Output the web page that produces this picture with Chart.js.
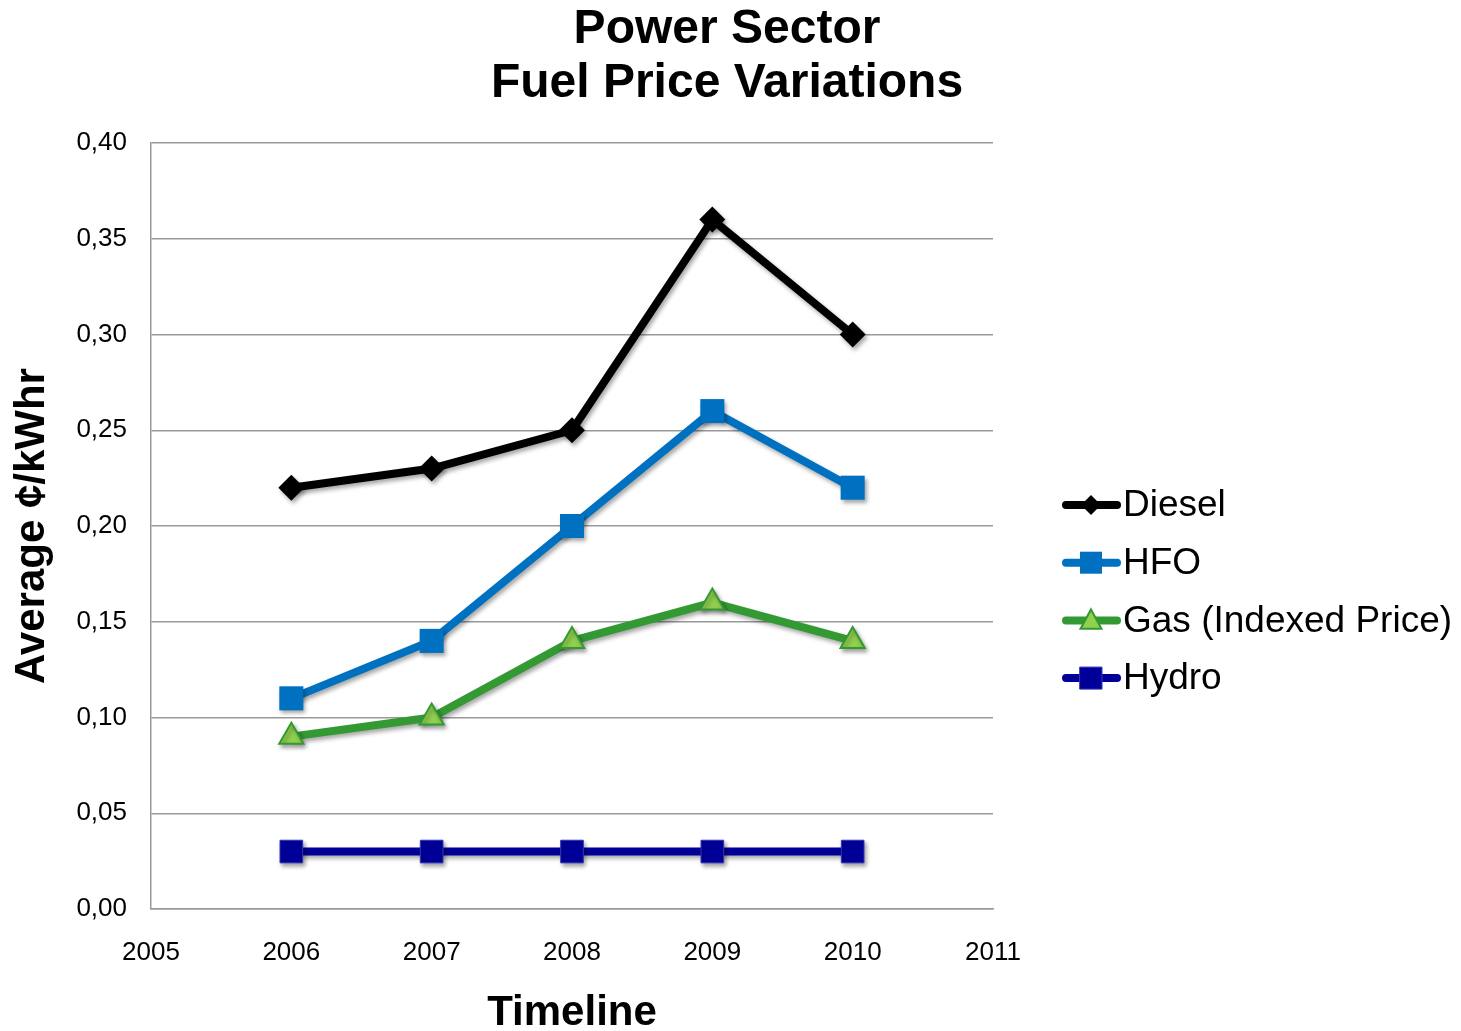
<!DOCTYPE html>
<html>
<head>
<meta charset="utf-8">
<script src="https://cdn.jsdelivr.net/npm/chart.js@4.4.1/dist/chart.umd.min.js"></script>
<style>
    html, body { margin: 0; padding: 0; background: #fff; }
    #wrap { width: 1461px; height: 1031px; }
</style>
</head>
<body>
<div id="wrap"><canvas id="chart"></canvas></div>
<script>
const years = [2006, 2007, 2008, 2009, 2010]
const diesel = [0.22, 0.23, 0.25, 0.36, 0.30]
const hfo = [0.11, 0.14, 0.20, 0.26, 0.22]
const gas = [0.09, 0.10, 0.14, 0.16, 0.14]
const hydro = [0.03, 0.03, 0.03, 0.03, 0.03]
const seriesNames = ['Diesel', 'HFO', 'Gas (Indexed Price)', 'Hydro']

const FONT = "'Liberation Sans', Arial, sans-serif"

function toPoints(values) {
    return values.map((v, i) => ({x: years[i], y: v}))
}

// drop shadow like the office chart
const shadowPlugin = {
    id: 'shadow',
    beforeDatasetDraw(chart) {
        const ctx = chart.ctx
        ctx.save()
        ctx.shadowColor = 'rgba(0,0,0,0.35)'
        ctx.shadowBlur = 4
        ctx.shadowOffsetX = 2
        ctx.shadowOffsetY = 3
    },
    afterDatasetDraw(chart) {
        chart.ctx.restore()
    }
}

function drawMarker(ctx, style, x, y, r, fill, stroke, lw) {
    ctx.beginPath()
    if (style === 'rectRot') {
        ctx.moveTo(x - r, y)
        ctx.lineTo(x, y - r)
        ctx.lineTo(x + r, y)
        ctx.lineTo(x, y + r)
    } else if (style === 'rect') {
        ctx.rect(x - r, y - r, 2 * r, 2 * r)
    } else if (style === 'triangle') {
        ctx.moveTo(x, y - r)
        ctx.lineTo(x + r * 0.95, y + r * 0.75)
        ctx.lineTo(x - r * 0.95, y + r * 0.75)
    }
    ctx.closePath()
    ctx.fillStyle = fill
    ctx.fill()
    if (lw) {
        ctx.lineWidth = lw
        ctx.strokeStyle = stroke
        ctx.stroke()
    }
}

const legendPlugin = {
    id: 'sideLegend',
    afterDraw(chart) {
        const ctx = chart.ctx
        const startY = 505
        const gap = 57.7
        ctx.save()
        chart.data.datasets.forEach((ds, i) => {
            const y = startY + i * gap
            ctx.beginPath()
            ctx.lineCap = 'round'
            ctx.lineWidth = 8
            ctx.strokeStyle = ds.borderColor
            ctx.moveTo(1066, y)
            ctx.lineTo(1117, y)
            ctx.stroke()
            const r = ds.pointStyle === 'rectRot' ? 10 : 11
            drawMarker(ctx, ds.pointStyle, 1091, y, r, ds.pointBackgroundColor, ds.pointBorderColor, ds.pointBorderWidth)
            ctx.fillStyle = '#000'
            ctx.font = '37px ' + FONT
            ctx.textBaseline = 'middle'
            ctx.textAlign = 'left'
            ctx.fillText(ds.label, 1123, y + 1)
        })
        ctx.restore()
    }
}

const chart = new Chart(document.getElementById('chart'), {
    type: 'line',
    data: {
        datasets: [
            {
                label: seriesNames[0],
                data: toPoints(diesel),
                borderColor: '#000000',
                borderWidth: 8,
                pointStyle: 'rectRot',
                pointRadius: 13,
                pointBackgroundColor: '#000000',
                pointBorderColor: '#000000',
                pointBorderWidth: 0,
            },
            {
                label: seriesNames[1],
                data: toPoints(hfo),
                borderColor: '#0070C0',
                borderWidth: 8,
                pointStyle: 'rect',
                pointRadius: 17,
                pointBackgroundColor: '#0070C0',
                pointBorderColor: '#0070C0',
                pointBorderWidth: 0,
            },
            {
                label: seriesNames[2],
                data: toPoints(gas),
                borderColor: '#339933',
                borderWidth: 8,
                pointStyle: 'triangle',
                pointRadius: 14,
                pointBackgroundColor: '#92D050',
                pointBorderColor: '#339933',
                pointBorderWidth: 2,
            },
            {
                label: seriesNames[3],
                data: toPoints(hydro),
                borderColor: '#000099',
                borderWidth: 8,
                pointStyle: 'rect',
                pointRadius: 16,
                pointBackgroundColor: '#000099',
                pointBorderColor: '#3333bb',
                pointBorderWidth: 1,
            },
        ]
    },
    options: {
        responsive: true,
        maintainAspectRatio: false,
        animation: false,
        layout: {
            padding: {left: 0, right: 7, top: 0, bottom: 0}
        },
        elements: {
            line: {tension: 0, borderJoinStyle: 'round'},
        },
        plugins: {
            legend: {display: false},
            tooltip: {enabled: false},
            title: {
                display: true,
                text: ['Power Sector', 'Fuel Price Variations'],
                color: '#000',
                font: {family: FONT, size: 48, weight: 'bold', lineHeight: '54px'},
                padding: {top: 3, bottom: 32},
            },
        },
        scales: {
            x: {
                type: 'linear',
                min: 2005,
                max: 2011,
                grid: {display: false, drawTicks: false},
                border: {display: true, color: '#999999', width: 1.5},
                ticks: {
                    stepSize: 1,
                    padding: 28,
                    color: '#000',
                    font: {family: FONT, size: 26},
                    callback: v => String(v),
                },
                title: {
                    display: true,
                    text: 'Timeline',
                    color: '#000',
                    font: {family: FONT, size: 42, weight: 'bold', lineHeight: 0.85},
                    padding: {top: 0, bottom: 0},
                },
                afterFit(scale) { scale.height = 122 },
            },
            y: {
                min: 0,
                max: 0.4,
                grid: {color: '#999999', lineWidth: 1.5, drawTicks: false},
                border: {display: true, color: '#999999', width: 1.5},
                ticks: {
                    stepSize: 0.05,
                    padding: 24,
                    color: '#000',
                    font: {family: FONT, size: 26},
                    callback: v => v.toFixed(2).replace('.', ','),
                },
                title: {
                    display: true,
                    text: 'Average ¢/kWhr',
                    color: '#000',
                    font: {family: FONT, size: 42, weight: 'bold', lineHeight: 1.2},
                    padding: {top: 7, bottom: 0},
                },
                afterFit(scale) { scale.width = 151 },
            },
            // empty axis that keeps the space on the right free for the legend
            spacer: {
                type: 'linear',
                position: 'right',
                display: true,
                grid: {display: false, drawTicks: false},
                border: {display: false},
                ticks: {display: false},
                afterFit(scale) { scale.width = 461 },
            },
        },
    },
    plugins: [shadowPlugin, legendPlugin],
})
</script>
</body>
</html>
